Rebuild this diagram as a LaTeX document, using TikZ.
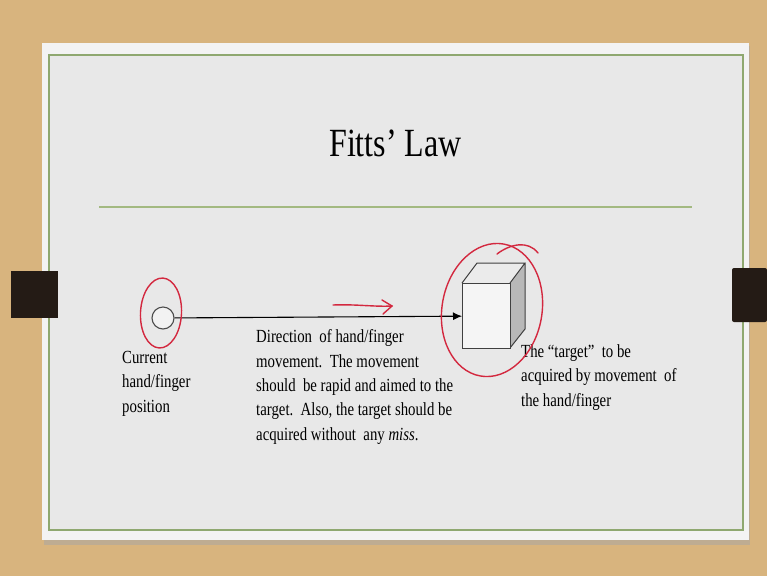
\documentclass[tikz,border=0pt]{standalone}
\usepackage{fontspec}
\setmainfont{Liberation Serif}[FakeStretch=0.8]
\usetikzlibrary{arrows.meta, positioning}
\definecolor{wood}{HTML}{D8B47E}
\definecolor{slidebg}{HTML}{E8E8E8}
\definecolor{slideedge}{HTML}{F3F3F3}
\definecolor{rulegreen}{HTML}{A3B981}
\definecolor{framegreen}{HTML}{8FA870}
\definecolor{pen}{HTML}{D3283F}
\definecolor{tab}{HTML}{241B15}
\tikzstyle{caption} = [anchor=base west, align=left, inner sep=0pt, font=\fontsize{18.5}{24.3}\selectfont]
\tikzstyle{arrow} = [line width=1.1pt, -{Latex[length=9pt,width=8pt]}]
\tikzstyle{pen} = [draw=pen, line width=1.4pt, line cap=round]

\begin{document}
\begin{tikzpicture}[x=1pt, y=-1pt]
\useasboundingbox (0,0) rectangle (767,576);

% Background and slide
\fill[wood] (0,0) rectangle (767,576);
\fill[black!35, opacity=0.5] (44,46) rectangle (750,545);
\fill[slideedge] (42,43) rectangle (748.5,540);
\fill[slidebg] (49,55) rectangle (742.5,530);
\draw[framegreen, line width=2pt] (49,55) rectangle (742.5,530);
\fill[tab] (11,271) rectangle (58,318);
\fill[tab, rounded corners=2pt] (732,268) rectangle (767,322);

% Title
\node (title) [anchor=base, inner sep=0pt, font=\fontsize{40}{48}\selectfont] at (395.5,156) {Fitts' Law};
\draw[rulegreen, line width=2.5pt] (99,207) -- (692,207);

% Nodes
\node (start) [circle, draw=black!70, fill=white!95!black, line width=1.1pt, minimum size=22pt, inner sep=0pt] at (163,318) {};

\fill[black!8] (462,283) -- (477,263) -- (525,263) -- (510,283) -- cycle;
\fill[black!28] (510,283) -- (525,263) -- (525,329) -- (510,348) -- cycle;
\draw[black!75, line width=1pt] (462,283) -- (477,263) -- (525,263) -- (510,283)
  (525,263) -- (525,329) -- (510,348);
\node (target) [rectangle, draw=black!75, fill=white!96!black, line width=1pt, minimum width=48pt, minimum height=65pt, inner sep=0pt, anchor=north west] at (462,283) {};

% last-line baselines
\node (current) [caption] at (122,412) {Current\\hand/finger\\position};
\node (direction) [caption] at (256,440)
{Direction\ \ of hand/finger\\
movement.\ \ The movement\\
should\ \ be rapid and aimed to the\\
target.\ \ Also, the target should be\\
acquired without\ \ any \textit{miss}.};
\node (goal) [caption] at (521,406)
{The ``target''\ \ to be\\
acquired by movement\ \ of\\
the hand/finger};

% Arrows
\draw [arrow] (start) -- (target);

% Pen marks
\draw[pen] (161,313) ellipse [x radius=20.5, y radius=35, rotate=-3];
\draw[pen] (492,310) ellipse [x radius=50, y radius=67, rotate=-10];
\draw[pen] (497,254) .. controls (510,244) and (528,240) .. (538,253);
\draw[pen] (333,305) .. controls (355,304) and (375,307) .. (392,306);
\draw[pen] (382,300) -- (392,306) -- (383,314);
\end{tikzpicture}
\end{document}
